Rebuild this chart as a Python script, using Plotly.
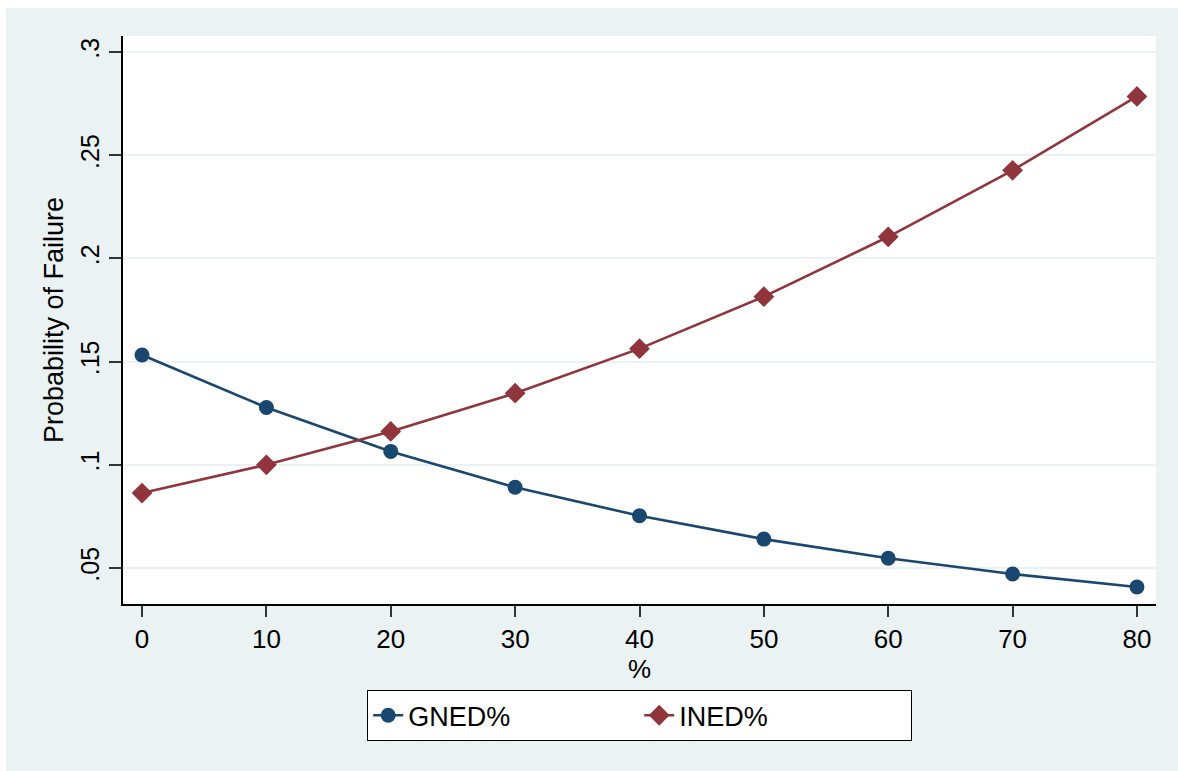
import plotly.graph_objects as go

# Data
pct = [0, 10, 20, 30, 40, 50, 60, 70, 80]
gned = [0.1532, 0.1278, 0.1065, 0.0891, 0.0753, 0.0640, 0.0547, 0.0471, 0.0408]
ined = [0.0863, 0.1000, 0.1162, 0.1347, 0.1563, 0.1815, 0.2105, 0.2427, 0.2785]
y_tickvals = [0.05, 0.10, 0.15, 0.20, 0.25, 0.30]
y_ticktext = [".05", ".1", ".15", ".2", ".25", ".3"]
x_tickvals = [0, 10, 20, 30, 40, 50, 60, 70, 80]

NAVY = "#1a476f"
MAROON = "#90353b"
BG = "#EAF2F3"
FONT = "Liberation Sans, Arial, sans-serif"

fig = go.Figure()
fig.add_trace(go.Scatter(
    x=pct, y=gned, name="GNED%", mode="lines+markers",
    line=dict(color=NAVY, width=2.6),
    marker=dict(symbol="circle", size=15, color=NAVY),
))
fig.add_trace(go.Scatter(
    x=pct, y=ined, name="INED%", mode="lines+markers",
    line=dict(color=MAROON, width=2.6),
    marker=dict(symbol="diamond", size=16, color=MAROON),
))

W, H = 1178, 771
L, R, T, B = 123, 22, 36, 167
pw, ph = W - L - R, H - T - B

def px_x(p):
    return (p - L) / pw

def px_y(p):
    return (H - B - p) / ph

fig.update_layout(
    width=W, height=H,
    margin=dict(l=L, r=R, t=T, b=B, pad=0),
    paper_bgcolor=BG,
    plot_bgcolor="white",
    font=dict(family=FONT, color="black", size=25),
    showlegend=True,
    legend=dict(
        orientation="h",
        x=0.5, xanchor="center",
        y=px_y(690), yanchor="top",
        bgcolor="white",
        bordercolor="black",
        borderwidth=1.2,
        font=dict(size=27, family=FONT),
        entrywidth=226,
        entrywidthmode="pixels",
        itemclick=False,
    ),
    xaxis=dict(
        range=[-1.53, 81.53],
        tickvals=x_tickvals,
        ticks="outside", ticklen=11, tickwidth=1.5, tickcolor="#333",
        showline=True, linecolor="black", linewidth=1.5,
        showgrid=False, zeroline=False,
        tickfont=dict(size=26),
        title=dict(text="%", font=dict(size=26), standoff=0),
    ),
    yaxis=dict(
        range=[0.03256, 0.3078],
        tickvals=y_tickvals, ticktext=y_ticktext,
        tickangle=-90,
        ticks="outside", ticklen=12, tickwidth=1.5, tickcolor="#333",
        showline=True, linecolor="black", linewidth=1.5,
        showgrid=True, gridcolor=BG, gridwidth=2,
        zeroline=False,
        tickfont=dict(size=25),
        title=dict(text="Probability of Failure", font=dict(size=27), standoff=5),
    ),
    shapes=[
        dict(type="rect", xref="paper", yref="paper",
             x0=px_x(0), x1=px_x(6), y0=px_y(H), y1=px_y(0),
             fillcolor="white", line=dict(width=0), layer="below"),
        dict(type="rect", xref="paper", yref="paper",
             x0=px_x(0), x1=px_x(W), y0=px_y(8), y1=px_y(0),
             fillcolor="white", line=dict(width=0), layer="below"),
    ],
)

fig.write_html(
    "out.html",
    config={"displayModeBar": False},
    post_script=(
        "document.body.style.margin='0';"
        "document.body.style.overflow='hidden';"
        "document.documentElement.style.overflow='hidden';"
    ),
)
